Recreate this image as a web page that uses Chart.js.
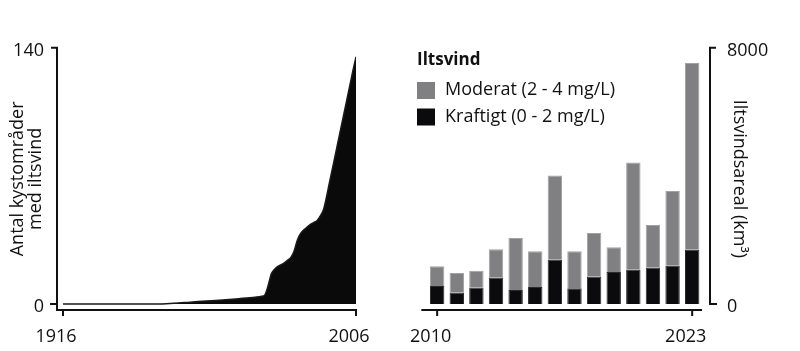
<!DOCTYPE html>
<html><head><meta charset="utf-8">
<script src="https://cdn.jsdelivr.net/npm/chart.js@4.4.1/dist/chart.umd.min.js"></script>
<style>
html,body{margin:0;padding:0;background:#fff;width:800px;height:351px;overflow:hidden}
#c1{position:absolute;left:0;top:0}
#c2{position:absolute;left:400px;top:0}
</style></head><body>
<canvas id="c1" width="400" height="351"></canvas>
<canvas id="c2" width="400" height="351"></canvas>
<script>
const INK = '#111111';

// ---- left chart data: number of coastal areas with hypoxia ----
const areaYears  = [1916, 1945, 1950, 1955, 1960, 1965, 1970, 1975, 1977, 1978,
                    1979, 1980, 1981, 1982, 1983, 1984, 1985, 1986, 1987, 1988,
                    1989, 1990, 1991, 1992, 1993, 1994, 1995, 1996, 1997, 1998,
                    1999, 2000, 2001, 2002, 2003, 2004, 2005, 2006];
const areaCounts = [0, 0, 0.4, 1.0, 1.6, 2.2, 2.9, 3.7, 4.2, 5,
                    10, 16.5, 19, 20.5, 21.5, 22.5, 24, 25.5, 29, 35,
                    38.5, 40.5, 42, 43.5, 44.5, 45.5, 48, 51.5, 59, 67.7,
                    76, 84.5, 93, 101.5, 110, 118.5, 127, 135];
const leftXTicks = [1916, 2006];
const leftYTicks = [0, 140];

// ---- right chart data: hypoxic volume (km3) ----
const barYears = ['2010','2011','2012','2013','2014','2015','2016','2017','2018','2019','2020','2021','2022','2023'];
const severe   = [565, 360, 515, 830, 435, 530, 1385, 490, 860, 995, 1070, 1140, 1195, 1690];
const moderate = [610, 605, 520, 880, 1625, 1120, 2625, 1160, 1355, 780, 3345, 1325, 2335, 5830];
const rightXTickIdx = [0, 13];
const rightYTicks = [0, 8000];
const legendTitle = 'Iltsvind';

Chart.defaults.font.family = "'Open Sans', sans-serif";
Chart.defaults.font.size = 18;
Chart.defaults.color = INK;
Chart.defaults.animation = false;

const leftAxes = {
  id: 'leftAxes',
  afterDraw(chart) {
    const {ctx, chartArea: a, scales: {x, y}} = chart;
    ctx.save();
    ctx.strokeStyle = INK; ctx.lineWidth = 2;
    const top = y.getPixelForValue(leftYTicks[1]);
    const y0 = y.getPixelForValue(leftYTicks[0]);
    const bot = a.bottom;
    const x0 = x.getPixelForValue(leftXTicks[0]);
    const x1 = x.getPixelForValue(leftXTicks[1]);
    ctx.beginPath();
    ctx.moveTo(a.left - 6, top); ctx.lineTo(a.left, top);
    ctx.lineTo(a.left, bot); ctx.lineTo(x1, bot); ctx.lineTo(x1, bot + 6);
    ctx.stroke();
    ctx.beginPath();
    ctx.moveTo(a.left - 7, y0); ctx.lineTo(a.left, y0);
    ctx.moveTo(x0, bot); ctx.lineTo(x0, bot + 6);
    ctx.stroke();
    ctx.restore();
  }
};

const rightAxes = {
  id: 'rightAxes',
  afterDraw(chart) {
    const {ctx, chartArea: a, scales: {x, y}} = chart;
    ctx.save();
    ctx.strokeStyle = INK; ctx.lineWidth = 2;
    const bot = a.bottom;
    ctx.beginPath();
    ctx.moveTo(a.left - 6, bot); ctx.lineTo(a.right, bot);
    rightXTickIdx.forEach(i => { const px = x.getPixelForValue(i); ctx.moveTo(px, bot); ctx.lineTo(px, bot + 6); });
    ctx.stroke();
    const ax = a.right + 8;
    const yTop = y.getPixelForValue(rightYTicks[1]);
    const y0 = y.getPixelForValue(rightYTicks[0]);
    ctx.beginPath();
    ctx.moveTo(ax + 6, yTop); ctx.lineTo(ax, yTop); ctx.lineTo(ax, y0 + 1);
    ctx.moveTo(ax, y0); ctx.lineTo(ax + 7, y0);
    ctx.stroke();
    // legend
    const ds = chart.data.datasets.slice().reverse();
    ctx.fillStyle = INK;
    ctx.textAlign = 'left'; ctx.textBaseline = 'middle';
    ctx.font = "bold 17px 'Open Sans', sans-serif";
    ctx.fillText(legendTitle, 17, 60);
    ctx.font = "18px 'Open Sans', sans-serif";
    ds.forEach((d, i) => {
      ctx.fillStyle = d.backgroundColor;
      ctx.fillRect(17, 82 + i * 26.5, 18, 17);
      ctx.fillStyle = INK;
      ctx.fillText(d.label, 45, 90 + i * 27);
    });
    ctx.restore();
  }
};

new Chart(document.getElementById('c1'), {
  type: 'line',
  data: { datasets: [{
    label: 'Antal kystområder med iltsvind',
    data: areaYears.map((yr, i) => ({x: yr, y: areaCounts[i]})),
    fill: 'origin', backgroundColor: '#0a0a0a', borderColor: '#1a1a1a',
    borderWidth: 1.5, pointRadius: 0, cubicInterpolationMode: 'monotone'
  }]},
  options: {
    responsive: false,
    layout: { padding: { left: 0, right: 44, top: 47.7, bottom: 0 } },
    plugins: { legend: {display: false}, tooltip: {enabled: false} },
    scales: {
      x: { type: 'linear', min: 1914.16, max: 2006,
           grid: {display: false, drawTicks: false}, border: {display: false},
           afterBuildTicks: s => { s.ticks = leftXTicks.map(v => ({value: v})); },
           afterFit: s => { s.height = 41; },
           ticks: { padding: 16, labelOffset: -7, maxRotation: 0, autoSkip: false, callback: v => String(v) } },
      y: { min: -3.28, max: 140,
           grid: {display: false, drawTicks: false}, border: {display: false},
           afterBuildTicks: s => { s.ticks = leftYTicks.map(v => ({value: v})); },
           afterFit: s => { s.width = 57; },
           ticks: { padding: 13, labelOffset: 3, callback: v => String(v) },
           title: { display: true, text: ['Antal kystområder', 'med iltsvind'],
                    font: {size: 18, lineHeight: 1.05}, padding: {top: 8, bottom: 0} } }
    }
  },
  plugins: [leftAxes]
});

new Chart(document.getElementById('c2'), {
  type: 'bar',
  data: { labels: barYears, datasets: [
    { label: 'Kraftigt (0 - 2 mg/L)', data: severe, backgroundColor: '#0b0b0d', borderColor: '#2a2a2a', borderWidth: 1 },
    { label: 'Moderat (2 - 4 mg/L)', data: moderate, backgroundColor: '#808083', borderColor: '#a2a2a4', borderWidth: 1 }
  ]},
  options: {
    responsive: false,
    layout: { padding: { left: 16, right: 0, top: 47.7, bottom: 0 } },
    datasets: { bar: { categoryPercentage: 1, barPercentage: 0.735 } },
    plugins: { legend: {display: false}, tooltip: {enabled: false} },
    scales: {
      x: { stacked: true, offset: true,
           grid: {display: false, drawTicks: false}, border: {display: false},
           afterFit: s => { s.height = 41; },
           ticks: { autoSkip: false, maxRotation: 0, padding: 16, labelOffset: -6.5,
                    callback: (v, i) => rightXTickIdx.includes(i) ? barYears[i] : '' } },
      y: { stacked: true, position: 'right', min: -187.3, max: 8000,
           grid: {display: false, drawTicks: false}, border: {display: false},
           afterBuildTicks: s => { s.ticks = rightYTicks.map(v => ({value: v})); },
           afterFit: s => { s.width = 98; },
           ticks: { padding: 25, labelOffset: 3, callback: v => String(v) },
           title: { display: true, text: 'Iltsvindsareal (km³)',
                    font: {size: 18, lineHeight: 1}, padding: {top: 52, bottom: 0} } }
    }
  },
  plugins: [rightAxes]
});
</script>
</body></html>
